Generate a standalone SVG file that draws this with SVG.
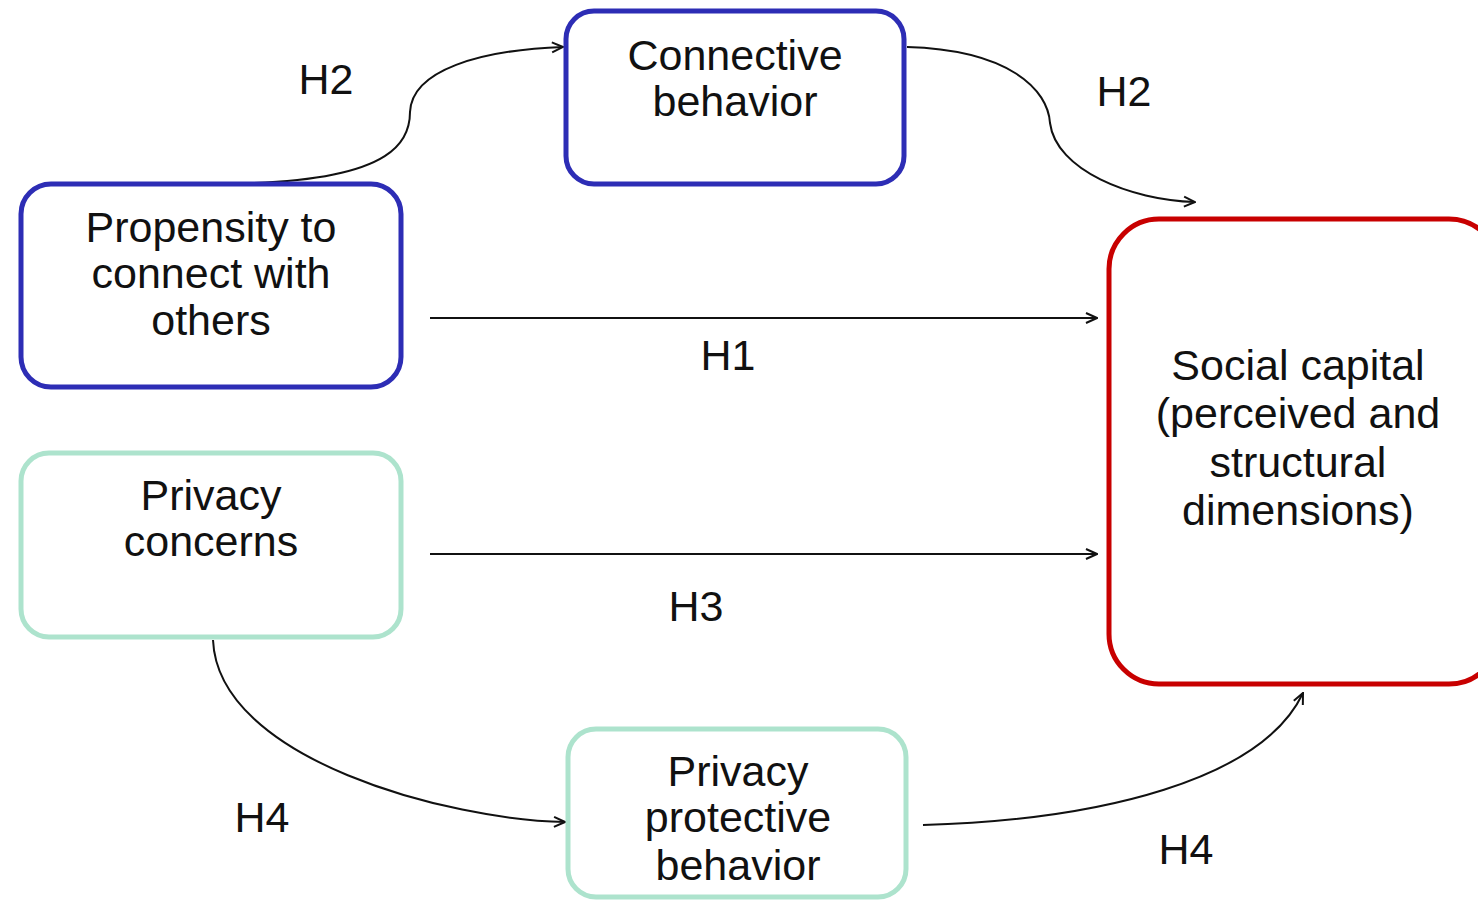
<svg xmlns="http://www.w3.org/2000/svg" width="1478" height="900" viewBox="0 0 1478 900">
  <defs>
    <marker id="arrow" viewBox="0 0 14 14" refX="13" refY="7" markerWidth="14" markerHeight="14" markerUnits="userSpaceOnUse" orient="auto">
      <path d="M2,2 L13,7 L2,12" fill="none" stroke="#111" stroke-width="2"/>
    </marker>
  </defs>
  <style>
    .box { fill: #fff; stroke-width: 5; }
    .blue { stroke: #2d2db5; }
    .mint { stroke: #ade3cd; }
    .red { stroke: #c80000; }
    .label { font-family: "Liberation Sans", Arial, sans-serif; font-size: 43px; fill: #111; text-anchor: middle; }
    .edge { fill: none; stroke: #111; stroke-width: 2; marker-end: url(#arrow); }
  </style>
  <rect width="1478" height="900" fill="#fff"/>

  <g id="connectors">
    <path class="edge" d="M253,183 C395,178 410,140 410,112 C412,70 480,50 563,47"/>
    <path class="edge" d="M907,47 C1010,50 1048,90 1050,123 C1056,170 1130,200 1195,202"/>
    <path class="edge" d="M430,318 L1097,318"/>
    <path class="edge" d="M430,554 L1097,554"/>
    <path class="edge" d="M213,640 C218,760 450,820 565,822"/>
    <path class="edge" d="M923,825 C1100,820 1262,780 1303,693"/>
    <text class="label" x="326" y="94">H2</text>
    <text class="label" x="1124" y="106">H2</text>
    <text class="label" x="728" y="370">H1</text>
    <text class="label" x="696" y="621">H3</text>
    <text class="label" x="262" y="832">H4</text>
    <text class="label" x="1186" y="864">H4</text>
  </g>

  <g id="propensity">
    <rect class="box blue" x="21" y="184" width="380" height="203" rx="30"/>
    <text class="label" x="211" y="242">Propensity to</text>
    <text class="label" x="211" y="288">connect with</text>
    <text class="label" x="211" y="335">others</text>
  </g>

  <g id="connective">
    <rect class="box blue" x="566" y="11" width="338" height="173" rx="28"/>
    <text class="label" x="735" y="70">Connective</text>
    <text class="label" x="735" y="116">behavior</text>
  </g>

  <g id="privacy-concerns">
    <rect class="box mint" x="21" y="453" width="380" height="184" rx="28"/>
    <text class="label" x="211" y="510">Privacy</text>
    <text class="label" x="211" y="556">concerns</text>
  </g>

  <g id="privacy-protective">
    <rect class="box mint" x="568" y="729" width="338" height="168" rx="28"/>
    <text class="label" x="738" y="786">Privacy</text>
    <text class="label" x="738" y="832">protective</text>
    <text class="label" x="738" y="880">behavior</text>
  </g>

  <g id="social-capital">
    <rect class="box red" x="1109" y="219" width="390" height="465" rx="50"/>
    <text class="label" x="1298" y="380">Social capital</text>
    <text class="label" x="1298" y="428">(perceived and</text>
    <text class="label" x="1298" y="477">structural</text>
    <text class="label" x="1298" y="525">dimensions)</text>
  </g>
</svg>
